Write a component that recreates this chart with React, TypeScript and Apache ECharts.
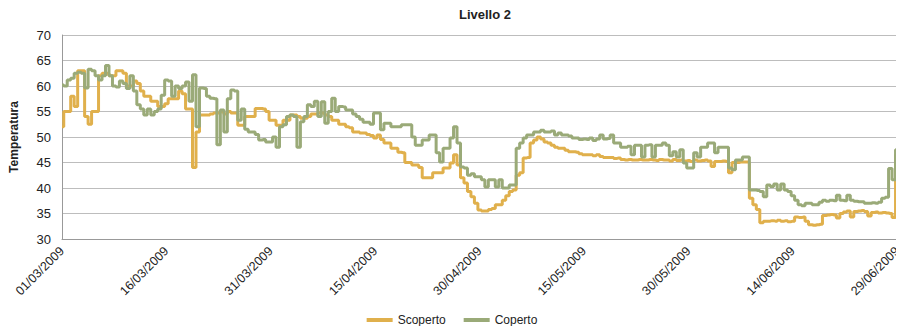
import React, { useEffect, useRef } from "react";
import * as echarts from "echarts";

// Half-day samples starting 01/03/2009 (index * 0.5 = days since 01/03/2009)
const scoperto: number[] = [
  52, 55, 55, 58, 56, 63, 63, 54, 52.5, 55,
  55, 62, 62.5, 62.5, 62, 62, 63, 63, 62.5, 60,
  60, 61, 60.5, 59, 58, 58, 57, 57, 56, 56,
  56.5, 57.5, 57.5, 57.5, 59, 58.5, 55.5, 55.5, 44, 51,
  54.3, 54.3, 54.3, 54.5, 54.7, 54.7, 55, 54.5, 55, 54.7,
  54.7, 52.3, 52.3, 54, 54, 54, 55.6, 55.6, 55.5, 55,
  53.3, 53.3, 52.3, 52.3, 53.3, 53.3, 54.3, 54.3, 54, 53.7,
  53.7, 54, 54.5, 54.5, 54.7, 54.7, 54.3, 54, 53.3, 53.3,
  52.5, 52.5, 52, 51.8, 51, 51, 50.8, 50.8, 50.5, 50.3,
  49.8, 50.4, 49.5, 48.8, 48.8, 47.8, 47.8, 47, 46.9, 45,
  45, 44.5, 44.5, 44, 42, 42, 42, 43, 43, 43,
  43.9, 43.9, 44.9, 46.5, 44.5, 42, 41, 39.3, 38.3, 37,
  35.7, 35.5, 35.5, 35.8, 36, 36.7, 36.7, 37.6, 38.5, 39.3,
  39.6, 42.5, 43, 45.9, 46, 48.8, 49.4, 50, 49.6, 49,
  48.8, 48.4, 48, 47.8, 47.8, 47.4, 47.1, 47.1, 47, 46.7,
  46.5, 46.5, 46.5, 46.3, 46.5, 46.2, 46, 46, 46, 45.8,
  45.9, 45.6, 45.5, 45.6, 45.5, 45.5, 45.6, 45.5, 45.5, 45.6,
  45.5, 45.4, 45.6, 45.5, 45.5, 45.3, 45.6, 45.4, 45.5, 45.3,
  45.4, 45.2, 45.5, 45.3, 45.4, 45.5, 45.3, 44.2, 45.2, 45.2,
  45.3, 45.2, 43, 45, 45, 45.1, 45.1, 45.1, 38, 36.7,
  35.8, 33.2, 33.5, 33.5, 33.6, 33.5, 33.7, 33.5, 33.6, 33.4,
  33.5, 34.3, 34.2, 34.3, 33.5, 32.8, 32.7, 32.8, 32.9, 34.6,
  34.7, 34.8, 34.7, 34.1, 35, 35.3, 35.5, 34.3, 35.4, 35.5,
  35.6, 35.4, 34.5, 35.2, 35.3, 35.1, 35.2, 35.1, 35, 34.2,
  46.5, 48,
];

const coperto: number[] = [
  60.2, 60, 61.2, 61.5, 62.5, 62.7, 62.5, 59.6, 63.3, 63,
  62, 61.2, 62, 64, 62, 60, 59.8, 61, 60.5, 59.5,
  62, 59, 56.3, 55.5, 54.3, 55.5, 54.3, 55, 55.5, 58.2,
  61.2, 61, 58, 60, 59.5, 60, 60.8, 57, 62.2, 52,
  59.6, 59.5, 58, 57.6, 57.5, 48.5, 55.3, 51, 57.5, 59.2,
  59, 53.3, 55.5, 51.5, 51, 51, 50.5, 49.4, 49.5, 49,
  49, 50, 48, 52, 52.4, 54, 54.3, 54, 48, 53,
  54, 56.3, 56, 57, 54, 56.9, 52.7, 55, 57.6, 55,
  56, 55.9, 55.3, 55.3, 54.5, 54, 53.5, 52.9, 52.9, 52.5,
  54.7, 54.7, 51.4, 52.7, 52.7, 52, 52, 52, 52.4, 52.4,
  52.4, 50, 48.4, 48.4, 49.4, 49.4, 50.4, 50.4, 46.9, 45.1,
  47.8, 47.8, 49.8, 52, 48.8, 44.1, 43.9, 42.5, 42.8, 42.2,
  42.2, 41.6, 40.2, 41.6, 41.6, 40.2, 41.6, 40, 40, 40.6,
  40.6, 47.8, 48.8, 49.8, 50.4, 50.4, 51, 51, 51.3, 51,
  51, 51.2, 50.4, 50.8, 50.4, 50.4, 50.2, 49.8, 49.8, 49.5,
  49.6, 49.5, 49.8, 49.3, 49.6, 50.4, 49.6, 49.7, 50.4, 48.8,
  48.8, 48, 48, 48.2, 46.5, 48.4, 48.4, 46.1, 48.4, 48.5,
  46.1, 48.4, 48.4, 48.8, 48.4, 46.3, 47.1, 46.1, 47.5, 44.9,
  43.9, 43.9, 46.9, 46.1, 48, 48, 48.8, 48.8, 46.9, 48,
  48, 48, 43.9, 43.6, 45.5, 45.5, 46.1, 46.1, 39.6, 39.6,
  39.5, 39.3, 38.3, 40.6, 40.3, 40.8, 39.6, 40.8, 39.6, 39.3,
  38.5, 37.6, 36.7, 36.5, 37, 37, 36.7, 36.7, 37.2, 37.6,
  37.4, 37.6, 37.5, 38.6, 37.6, 37.5, 38.6, 37.6, 37.4, 37.3,
  37.3, 37, 37, 37.1, 37, 37.2, 38, 38.2, 43.8, 41.6,
  47.5, 48.5,
];

const seriesNames = ["Scoperto", "Coperto"];
const seriesColors = ["#E0B04C", "#9AAA78"];
const startDateUTC = Date.UTC(2009, 2, 1);
const stepDays = 0.5;

function fmtDate(days: number): string {
  const d = new Date(startDateUTC + Math.round(days) * 86400000);
  const dd = String(d.getUTCDate()).padStart(2, "0");
  const mm = String(d.getUTCMonth() + 1).padStart(2, "0");
  return `${dd}/${mm}/${d.getUTCFullYear()}`;
}

export default function App() {
  const ref = useRef<HTMLDivElement>(null);
  useEffect(() => {
    if (!ref.current) return;
    const chart = echarts.init(ref.current, undefined, { renderer: "svg" });
    const font = "'Liberation Sans', Arial, sans-serif";
    const toPts = (arr: number[]) => arr.map((v, i) => [i * stepDays, v]);
    chart.setOption({
      animation: false,
      textStyle: { fontFamily: font },
      title: {
        text: "Livello 2",
        left: 480,
        top: 3,
        textAlign: "center",
        textStyle: { fontSize: 13, fontWeight: "bold", color: "#222", fontFamily: font },
      },
      grid: { left: 62, right: 0, top: 35, bottom: 95 },
      legend: {
        bottom: 6,
        left: "center",
        padding: [2, 5, 2, 5],
        itemWidth: 26,
        itemHeight: 4,
        itemGap: 18,
        icon: "rect",
        textStyle: { fontSize: 12, color: "#222", fontFamily: font },
        data: seriesNames,
      },
      xAxis: {
        type: "value",
        min: 0,
        max: 120.3,
        interval: 15,
        axisLine: { show: true, lineStyle: { color: "#999", width: 1 } },
        axisTick: { show: false },
        splitLine: { show: false },
        axisLabel: {
          rotate: 45,
          margin: 10,
          fontSize: 12.5,
          color: "#222",
          showMaxLabel: false,
          formatter: (v: number) => fmtDate(v),
        },
      },
      yAxis: {
        type: "value",
        min: 30,
        max: 70,
        interval: 5,
        name: "Temperatura",
        nameLocation: "middle",
        nameGap: 42,
        nameRotate: 90,
        nameTextStyle: { fontSize: 12, fontWeight: "bold", color: "#222", fontFamily: font },
        axisLine: { show: true, lineStyle: { color: "#999", width: 1 } },
        axisTick: { show: false },
        axisLabel: { fontSize: 13, color: "#222", margin: 11 },
        splitLine: { show: true, lineStyle: { color: "#bdbdbd", width: 1 } },
      },
      series: [
        {
          name: seriesNames[0],
          type: "line",
          step: "middle",
          showSymbol: false,
          symbol: "none",
          color: seriesColors[0],
          lineStyle: { width: 3, color: seriesColors[0] },
          data: toPts(scoperto),
        },
        {
          name: seriesNames[1],
          type: "line",
          step: "middle",
          showSymbol: false,
          symbol: "none",
          color: seriesColors[1],
          lineStyle: { width: 3, color: seriesColors[1] },
          data: toPts(coperto),
        },
      ],
    });
    return () => chart.dispose();
  }, []);
  return <div ref={ref} style={{ width: 904, height: 334, margin: -8 }} />;
}
